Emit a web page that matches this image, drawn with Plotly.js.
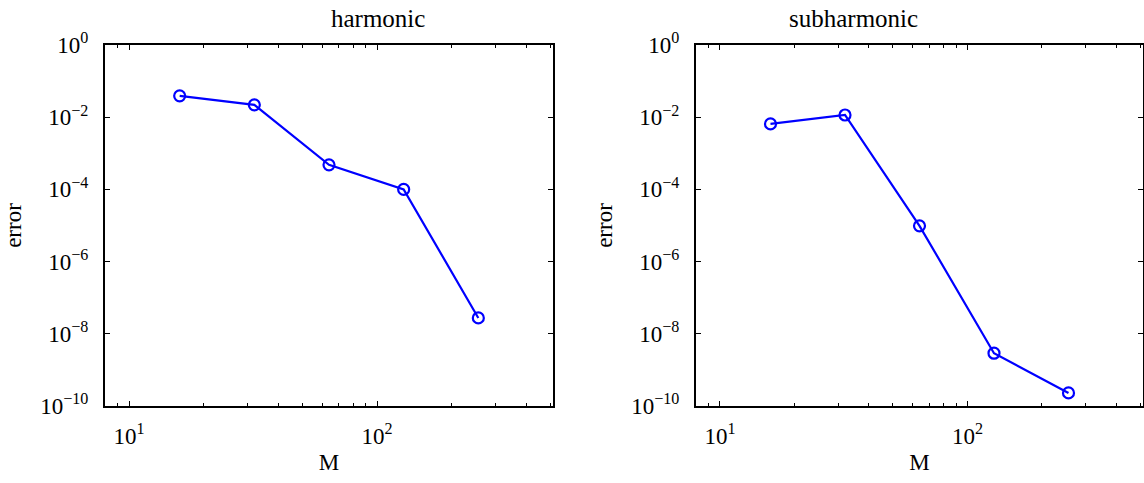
<!DOCTYPE html>
<html><head><meta charset="utf-8">
<script src="https://cdn.plot.ly/plotly-3.0.1.min.js"></script>
<style>html,body{margin:0;padding:0;background:#fff}#chart{width:1144px;height:483px}</style>
</head><body><div id="chart"></div>
<script>
var M = [16, 32, 64, 128, 256];
var harmonicError = [0.039, 0.022, 4.8e-4, 1.0e-4, 2.75e-8];
var subharmonicError = [6.5e-3, 1.15e-2, 9.8e-6, 2.9e-9, 2.3e-10];
var titles = ['harmonic', 'subharmonic'];
var xTickVals = [10, 100];
var xTickText = ['10<sup>1</sup>', '10<sup>2</sup>'];
var xMinorVals = [8, 9, 20, 30, 40, 50, 60, 70, 80, 90, 200, 300, 400, 500];
var yTickVals = [1e-10, 1e-8, 1e-6, 1e-4, 1e-2, 1];
var yTickText = ['10<sup>−10</sup>', '10<sup>−8</sup>', '10<sup>−6</sup>', '10<sup>−4</sup>', '10<sup>−2</sup>', '10<sup>0</sup>'];

var fam = 'Liberation Serif, Times New Roman, serif';
var tickFont = {family: fam, color: '#000', size: 23};
var labelFont = {family: fam, color: '#000', size: 23};
var titleFont = {family: fam, color: '#000', size: 25};
var lineStyle = {color: '#0000ff', width: 2.2};
var markerStyle = {symbol: 'circle-open', size: 11, color: '#0000ff', line: {width: 2.2, color: '#0000ff'}};

var traces = [
  {x: M, y: harmonicError, xaxis: 'x', yaxis: 'y', mode: 'lines+markers', line: lineStyle, marker: markerStyle},
  {x: M, y: subharmonicError, xaxis: 'x2', yaxis: 'y2', mode: 'lines+markers', line: lineStyle, marker: markerStyle}
];

function xa(domain, anchor) {
  return {type: 'log', domain: domain, anchor: anchor, range: [Math.log10(8), Math.log10(512)],
    tickmode: 'array', tickvals: xTickVals, ticktext: xTickText,
    ticks: 'inside', ticklen: 5, tickwidth: 1, tickcolor: '#000', ticklabelstandoff: 8,
    minor: {tickmode: 'array', tickvals: xMinorVals, ticks: 'inside', ticklen: 3, tickwidth: 1, tickcolor: '#000', showgrid: false},
    showline: true, linecolor: '#000', linewidth: 2, mirror: 'ticks', showgrid: false, zeroline: false,
    tickfont: tickFont, title: {text: 'M', font: labelFont, standoff: 6}};
}
function ya(anchor) {
  return {type: 'log', domain: [0, 1], anchor: anchor, range: [-10, 0],
    tickmode: 'array', tickvals: yTickVals, ticktext: yTickText,
    ticks: 'inside', ticklen: 5, tickwidth: 1, tickcolor: '#000', ticklabelstandoff: 10,
    showline: true, linecolor: '#000', linewidth: 2, mirror: 'ticks', showgrid: false, zeroline: false,
    tickfont: tickFont, title: {text: 'error', font: labelFont, standoff: 12}};
}

var layout = {
  width: 1144, height: 483, showlegend: false,
  paper_bgcolor: '#fff', plot_bgcolor: '#fff',
  margin: {l: 0, r: 0, t: 45, b: 77},
  xaxis: xa([105/1144, 553/1144], 'y'),
  yaxis: ya('x'),
  xaxis2: xa([696/1144, 1143/1144], 'y2'),
  yaxis2: ya('x2'),
  annotations: [
    {text: titles[0], xref: 'paper', yref: 'paper', x: (105+553)/2/1144, y: 1 + 27/361, yanchor: 'middle', showarrow: false, font: titleFont},
    {text: titles[1], xref: 'paper', yref: 'paper', x: (696+1143)/2/1144, y: 1 + 27/361, yanchor: 'middle', showarrow: false, font: titleFont}
  ]
};
Plotly.newPlot('chart', traces, layout, {displayModeBar: false, staticPlot: true});
</script></body></html>
